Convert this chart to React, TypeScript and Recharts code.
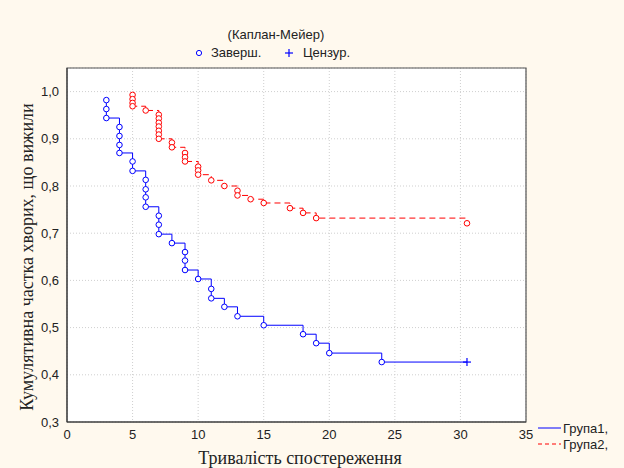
import React from "react";
import {
  ComposedChart,
  Line,
  XAxis,
  YAxis,
  CartesianGrid,
  ReferenceArea,
} from "recharts";

// Group 1 (Група1) – time, survival, censored flag
const g1Time = [3, 3, 3, 4, 4, 4, 4, 5, 5, 6, 6, 6, 6, 7, 7, 7, 8, 9, 9, 9, 10, 11, 11, 12, 13, 15, 18, 19, 20, 24, 30.5];
const g1Surv = [0.982, 0.963, 0.944, 0.925, 0.906, 0.887, 0.87, 0.852, 0.832, 0.813, 0.793, 0.776, 0.756, 0.737, 0.718, 0.698, 0.679, 0.66, 0.642, 0.622, 0.603, 0.582, 0.562, 0.544, 0.524, 0.505, 0.486, 0.467, 0.446, 0.427, 0.427];
const g1Cens = [0, 0, 0, 0, 0, 0, 0, 0, 0, 0, 0, 0, 0, 0, 0, 0, 0, 0, 0, 0, 0, 0, 0, 0, 0, 0, 0, 0, 0, 0, 1];

// Group 2 (Група2)
const g2Time = [5, 5, 5, 5, 6, 7, 7, 7, 7, 7, 7, 7, 8, 8, 9, 9, 9, 10, 10, 10, 11, 12, 13, 13, 14, 15, 17, 18, 19, 30.5];
const g2Surv = [0.993, 0.984, 0.976, 0.969, 0.96, 0.951, 0.943, 0.934, 0.926, 0.917, 0.909, 0.9, 0.892, 0.882, 0.87, 0.861, 0.852, 0.841, 0.833, 0.824, 0.812, 0.8, 0.79, 0.78, 0.772, 0.764, 0.753, 0.743, 0.732, 0.721];
const g2Cens = [0, 0, 0, 0, 0, 0, 0, 0, 0, 0, 0, 0, 0, 0, 0, 0, 0, 0, 0, 0, 0, 0, 0, 0, 0, 0, 0, 0, 0, 0];

const xTicks = [0, 5, 10, 15, 20, 25, 30, 35];
const yTicks = [0.3, 0.4, 0.5, 0.6, 0.7, 0.8, 0.9, 1.0];

const title = "(Каплан-Мейер)";
const legendDone = "Заверш.";
const legendCens = "Цензур.";
const group1Name = "Група1,";
const group2Name = "Група2,";
const xTitle = "Тривалість спостереження";
const yTitle = "Кумулятивна частка хворих, що вижили";

const BLUE = "#0000ff";
const RED = "#ff0000";

const g1 = g1Time.map((t, i) => ({ t, s: g1Surv[i], c: g1Cens[i] }));
const g2 = g2Time.map((t, i) => ({ t, s: g2Surv[i], c: g2Cens[i] }));

const makeDot = (color: string, prefix: string) => (props: any) => {
  const { cx, cy, payload, index } = props;
  if (cx == null || cy == null) return <g key={`${prefix}e${index}`} />;
  if (payload && payload.c) {
    return (
      <g key={`${prefix}c${index}`}>
        <line x1={cx - 4} x2={cx + 4} y1={cy} y2={cy} stroke={color} strokeWidth={1.2} />
        <line x1={cx} x2={cx} y1={cy - 4} y2={cy + 4} stroke={color} strokeWidth={1.2} />
      </g>
    );
  }
  return (
    <circle
      key={`${prefix}d${index}`}
      cx={cx}
      cy={cy}
      r={2.8}
      fill="#ffffff"
      stroke={color}
      strokeWidth={1}
    />
  );
};

const fmtY = (v: number) => v.toFixed(1).replace(".", ",");

const abs = (left: number, top: number, extra: React.CSSProperties = {}): React.CSSProperties => ({
  position: "absolute",
  left,
  top,
  transform: "translate(-50%, -50%)",
  whiteSpace: "nowrap",
  ...extra,
});

export default function App() {
  return (
    <div
      style={{
        position: "absolute",
        left: 0,
        top: 0,
        width: 624,
        height: 468,
        background: "#fff9ee",
        fontFamily: "'Liberation Sans', Arial, sans-serif",
        color: "#222",
        overflow: "hidden",
      }}
    >
      <ComposedChart
        width={624}
        height={468}
        margin={{ top: 68, right: 98, bottom: 16, left: 27 }}
      >
        <CartesianGrid
          fill="#ffffff"
          stroke="#cfcfcf"
          strokeDasharray="1 2"
        />
        <XAxis
          type="number"
          dataKey="t"
          domain={[0, 35]}
          ticks={xTicks}
          allowDataOverflow
          height={30}
          tickLine={false}
          axisLine={{ stroke: "#333" }}
          tick={{ fontSize: 13, fill: "#222", fontFamily: "'Liberation Sans', Arial" }}
          interval={0}
        />
        <YAxis
          type="number"
          domain={[0.3, 1.05]}
          ticks={yTicks}
          allowDataOverflow
          width={40}
          tickLine={false}
          axisLine={{ stroke: "#333" }}
          tickFormatter={fmtY}
          tick={{ fontSize: 13, fill: "#222", fontFamily: "'Liberation Sans', Arial" }}
          interval={0}
        />
        <ReferenceArea
          x1={0}
          x2={35}
          y1={0.3}
          y2={1.05}
          fill="none"
          stroke="#555"
          strokeWidth={1.2}
          ifOverflow="visible"
        />
        <Line
          data={g1}
          dataKey="s"
          type="stepAfter"
          stroke={BLUE}
          strokeWidth={1}
          dot={makeDot(BLUE, "a")}
          activeDot={false}
          isAnimationActive={false}
        />
        <Line
          data={g2}
          dataKey="s"
          type="stepAfter"
          stroke={RED}
          strokeWidth={1}
          strokeDasharray="6 4"
          dot={makeDot(RED, "b")}
          activeDot={false}
          isAnimationActive={false}
        />
      </ComposedChart>

      <div style={abs(276, 34, { fontSize: 13 })}>{title}</div>

      <svg style={{ position: "absolute", left: 195, top: 49 }} width={8} height={8}>
        <circle cx={4} cy={4} r={2.6} fill="#fff" stroke={BLUE} strokeWidth={1} />
      </svg>
      <div style={{ position: "absolute", left: 211, top: 52, transform: "translateY(-50%)", fontSize: 13, whiteSpace: "nowrap" }}>
        {legendDone}
      </div>
      <svg style={{ position: "absolute", left: 284, top: 48, }} width={10} height={10}>
        <line x1={1} x2={9} y1={5} y2={5} stroke={BLUE} strokeWidth={1.2} />
        <line x1={5} x2={5} y1={1} y2={9} stroke={BLUE} strokeWidth={1.2} />
      </svg>
      <div style={{ position: "absolute", left: 303, top: 52, transform: "translateY(-50%)", fontSize: 13, whiteSpace: "nowrap" }}>
        {legendCens}
      </div>

      <svg style={{ position: "absolute", left: 537, top: 422 }} width={26} height={28}>
        <line x1={1} x2={24} y1={6} y2={6} stroke={BLUE} strokeWidth={1} />
        <line x1={1} x2={24} y1={22} y2={22} stroke={RED} strokeWidth={1} strokeDasharray="4 3" />
      </svg>
      <div style={{ position: "absolute", left: 563, top: 428, transform: "translateY(-50%)", fontSize: 13, whiteSpace: "nowrap" }}>
        {group1Name}
      </div>
      <div style={{ position: "absolute", left: 563, top: 444, transform: "translateY(-50%)", fontSize: 13, whiteSpace: "nowrap" }}>
        {group2Name}
      </div>

      <div style={abs(300, 458, { fontSize: 18, fontFamily: "'Liberation Serif', 'Times New Roman', serif" })}>
        {xTitle}
      </div>
      <div
        style={abs(27, 257, {
          fontSize: 18,
          fontFamily: "'Liberation Serif', 'Times New Roman', serif",
          transform: "translate(-50%, -50%) rotate(-90deg)",
        })}
      >
        {yTitle}
      </div>
    </div>
  );
}
